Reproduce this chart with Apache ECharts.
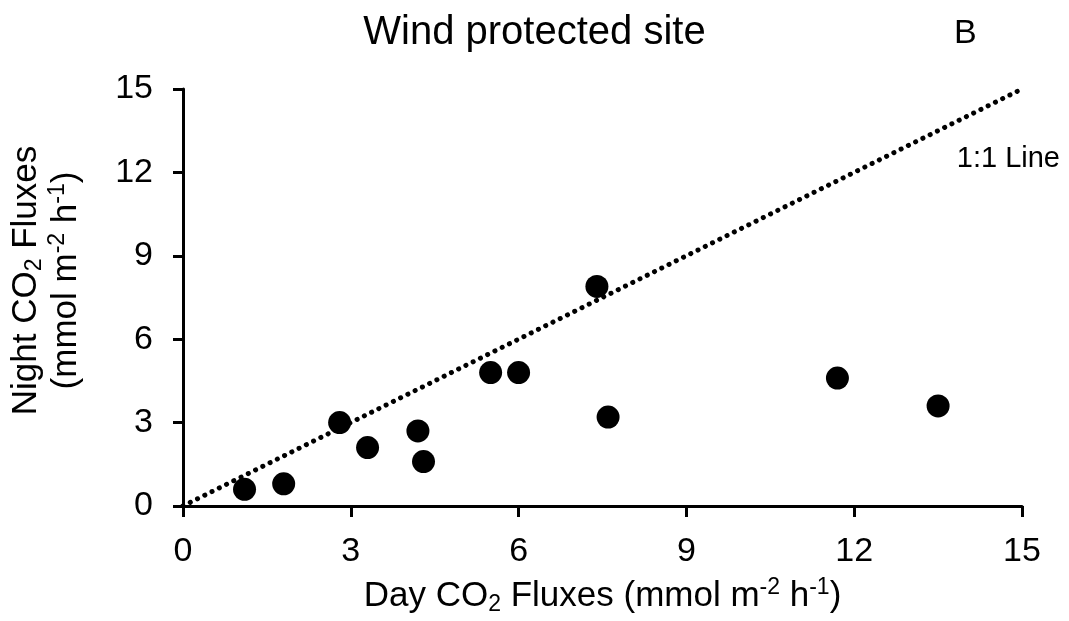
<!DOCTYPE html>
<html>
<head>
<meta charset="utf-8">
<script src="https://cdn.jsdelivr.net/npm/echarts@6/dist/echarts.min.js"></script>
<style>
html,body{margin:0;padding:0;background:#fff;}
#c{width:1069px;height:621px;}
</style>
</head>
<body>
<div id="c"></div>
<script>
// Data
const dayFlux   = [1.1, 1.8, 2.8, 3.3, 4.2, 4.3, 5.5, 6.0, 7.4, 7.6, 11.7, 13.5];
const nightFlux = [0.6, 0.8, 3.0, 2.1, 2.7, 1.6, 4.8, 4.8, 7.9, 3.2, 4.6, 3.6];
const lineX = [0, 15];
const lineY = [0, 15];
const axisMin = 0, axisMax = 15, axisStep = 3;

const FONT = '"Liberation Sans", Arial, sans-serif';
const points = dayFlux.map((d, i) => [d, nightFlux[i]]);
const onetoone = lineX.map((d, i) => [d, lineY[i]]);

const rich = {
  n:   {fontSize: 35, fontFamily: FONT, color: '#000', lineHeight: 40},
  sub: {fontSize: 23, fontFamily: FONT, color: '#000', lineHeight: 40, verticalAlign: 'bottom'},
  sup: {fontSize: 23, fontFamily: FONT, color: '#000', lineHeight: 40, verticalAlign: 'top'}
};

const chart = echarts.init(document.getElementById('c'), null, {renderer: 'canvas'});
chart.setOption({
  animation: false,
  backgroundColor: '#fff',
  title: [
    {text: 'Wind protected site', left: 'center', top: 8,
     textStyle: {fontFamily: FONT, fontSize: 40, fontWeight: 'normal', color: '#000'}},
    {text: 'B', left: 949, top: 12,
     textStyle: {fontFamily: FONT, fontSize: 34, fontWeight: 'normal', color: '#000'}}
  ],
  grid: {left: 183, right: 47, top: 89, bottom: 115},
  xAxis: {
    type: 'value', min: axisMin, max: axisMax, interval: axisStep,
    name: '{n|Day CO}{sub|2}{n| Fluxes (mmol m}{sup|-2}{n| h}{sup|-1}{n|)}',
    nameLocation: 'middle', nameGap: 70,
    nameTextStyle: {rich: rich},
    axisLine: {onZero: false, lineStyle: {color: '#000', width: 3}},
    axisTick: {show: true, length: 11, inside: false, lineStyle: {color: '#000', width: 3}},
    axisLabel: {margin: 29, fontFamily: FONT, fontSize: 34, color: '#000'},
    splitLine: {show: false}
  },
  yAxis: {
    type: 'value', min: axisMin, max: axisMax, interval: axisStep,
    name: '{n|Night CO}{sub|2}{n| Fluxes}\n{n|(mmol m}{sup|-2}{n| h}{sup|-1}{n|)}',
    nameLocation: 'middle', nameGap: 97,
    nameTextStyle: {rich: rich, padding: [0, 0, 0, 34]},
    axisLine: {onZero: false, lineStyle: {color: '#000', width: 3}},
    axisTick: {show: true, length: 10, inside: false, lineStyle: {color: '#000', width: 3}},
    axisLabel: {margin: 30, fontFamily: FONT, fontSize: 34, color: '#000'},
    splitLine: {show: false}
  },
  graphic: [
    {type: 'text', right: 9, top: 144, style: {text: '1:1 Line', fontFamily: FONT, fontSize: 29, fill: '#000'}}
  ],
  series: [
    {
      type: 'line', data: onetoone, showSymbol: false, symbol: 'none',
      lineStyle: {color: '#000', width: 5, type: [0.1, 8], cap: 'round'},
      silent: true, z: 1
    },
    {
      type: 'scatter', data: points, symbol: 'circle', symbolSize: 23,
      itemStyle: {color: '#000', opacity: 1}, z: 2
    }
  ]
});
</script>
</body>
</html>
